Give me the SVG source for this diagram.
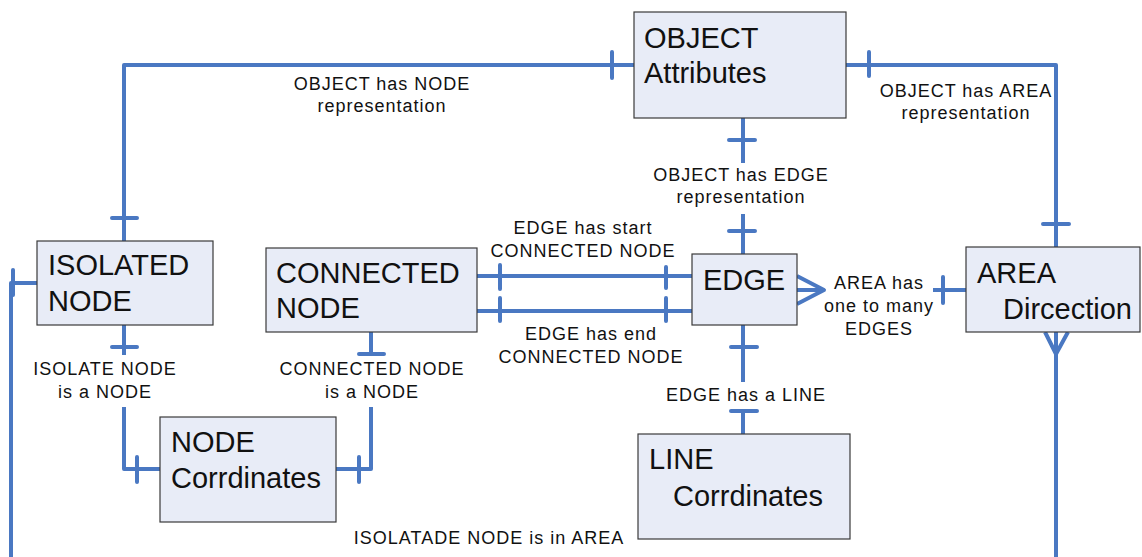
<svg xmlns="http://www.w3.org/2000/svg" width="1142" height="557" viewBox="0 0 1142 557">
  <style>
    .box { fill: #E8ECF7; stroke: #3A3A3A; stroke-width: 1.2; }
    .title { font-family: "Liberation Sans", Arial, sans-serif; font-size: 29px; fill: #111; }
    .lbl { font-family: "Liberation Sans", Arial, sans-serif; font-size: 18px; letter-spacing: 1px; fill: #111; text-anchor: middle; }
    .ln { fill: none; stroke: #4A78C2; stroke-width: 4; stroke-linejoin: round; }
    .tk { fill: none; stroke: #4A78C2; stroke-width: 4; stroke-linecap: round; }
  </style>
  <rect width="1142" height="557" fill="#FFFFFF"/>

  <!-- relationships -->
  <g id="connectors">
    <!-- OBJECT has NODE representation -->
    <path class="ln" d="M124,241 V65 H634"/>
    <path class="tk" d="M112,218 H137 M612,52 V78"/>

    <!-- OBJECT has AREA representation -->
    <path class="ln" d="M846,65 H1056 V247"/>
    <path class="tk" d="M869,52 V76 M1043,224 H1069"/>

    <!-- OBJECT has EDGE representation -->
    <path class="ln" d="M743,118 V163 M743,214 V254"/>
    <path class="tk" d="M729,140 H755 M729,231 H755"/>

    <!-- EDGE has start / end CONNECTED NODE -->
    <path class="ln" d="M476,276 H692 M476,311 H692"/>
    <path class="tk" d="M500,265 V289 M666,267 V288 M500,298 V321 M666,298 V321"/>

    <!-- AREA has one to many EDGES -->
    <path class="ln" d="M797,276 L824,290 L797,304 M797,290 H824 M933,290 H966"/>
    <path class="tk" d="M943,277 V303"/>

    <!-- EDGE has a LINE -->
    <path class="ln" d="M743,325 V382 M743,411 V434"/>
    <path class="tk" d="M731,347 H757 M731,411 H757"/>

    <!-- ISOLATE NODE is a NODE -->
    <path class="ln" d="M124,325 V355 M124,407 V469 H160"/>
    <path class="tk" d="M112,347 H137 M137,457 V482"/>

    <!-- CONNECTED NODE is a NODE -->
    <path class="ln" d="M371,332 V354 M371,407 V469 H336"/>
    <path class="tk" d="M359,354 H384 M359,457 V482"/>

    <!-- ISOLATADE NODE is in AREA -->
    <path class="ln" d="M37,283 H11 V557"/>
    <path class="tk" d="M13,270 V295"/>
    <path class="ln" d="M1045,332 L1056,354 L1068,332 M1056,332 V557"/>
  </g>

  <!-- relationship labels -->
  <g id="labels">
    <text class="lbl" x="382" y="90">OBJECT has NODE</text>
    <text class="lbl" x="382" y="112">representation</text>
    <text class="lbl" x="966" y="97">OBJECT has AREA</text>
    <text class="lbl" x="966" y="119">representation</text>
    <text class="lbl" x="741" y="181">OBJECT has EDGE</text>
    <text class="lbl" x="741" y="203">representation</text>
    <text class="lbl" x="583" y="234">EDGE has start</text>
    <text class="lbl" x="583" y="257">CONNECTED NODE</text>
    <text class="lbl" x="591" y="340">EDGE has end</text>
    <text class="lbl" x="591" y="363">CONNECTED NODE</text>
    <text class="lbl" x="879" y="289">AREA has</text>
    <text class="lbl" x="879" y="312">one to many</text>
    <text class="lbl" x="879" y="335">EDGES</text>
    <text class="lbl" x="746" y="401">EDGE has a LINE</text>
    <text class="lbl" x="105" y="375">ISOLATE NODE</text>
    <text class="lbl" x="105" y="398">is a NODE</text>
    <text class="lbl" x="372" y="375">CONNECTED NODE</text>
    <text class="lbl" x="372" y="398">is a NODE</text>
    <text class="lbl" x="489" y="544">ISOLATADE NODE is in AREA</text>
  </g>

  <g id="object">
    <rect class="box" x="634" y="12" width="212" height="106"/>
    <text class="title" x="644" y="48">OBJECT</text>
    <text class="title" x="644" y="83">Attributes</text>
  </g>

  <g id="isolated-node">
    <rect class="box" x="37" y="241" width="176" height="84"/>
    <text class="title" x="48" y="275">ISOLATED</text>
    <text class="title" x="48" y="311">NODE</text>
  </g>

  <g id="connected-node">
    <rect class="box" x="266" y="248" width="211" height="84"/>
    <text class="title" x="276" y="283">CONNECTED</text>
    <text class="title" x="276" y="318">NODE</text>
  </g>

  <g id="edge">
    <rect class="box" x="692" y="254" width="105" height="71"/>
    <text class="title" x="703" y="290">EDGE</text>
  </g>

  <g id="area">
    <rect class="box" x="966" y="247" width="174" height="85"/>
    <text class="title" x="977" y="283">AREA</text>
    <text class="title" x="1003" y="319">Dircection</text>
  </g>

  <g id="node-coordinates">
    <rect class="box" x="160" y="417" width="176" height="105"/>
    <text class="title" x="171" y="452">NODE</text>
    <text class="title" x="171" y="488">Corrdinates</text>
  </g>

  <g id="line-coordinates">
    <rect class="box" x="638" y="434" width="212" height="105"/>
    <text class="title" x="649" y="469">LINE</text>
    <text class="title" x="673" y="506">Corrdinates</text>
  </g>
</svg>
